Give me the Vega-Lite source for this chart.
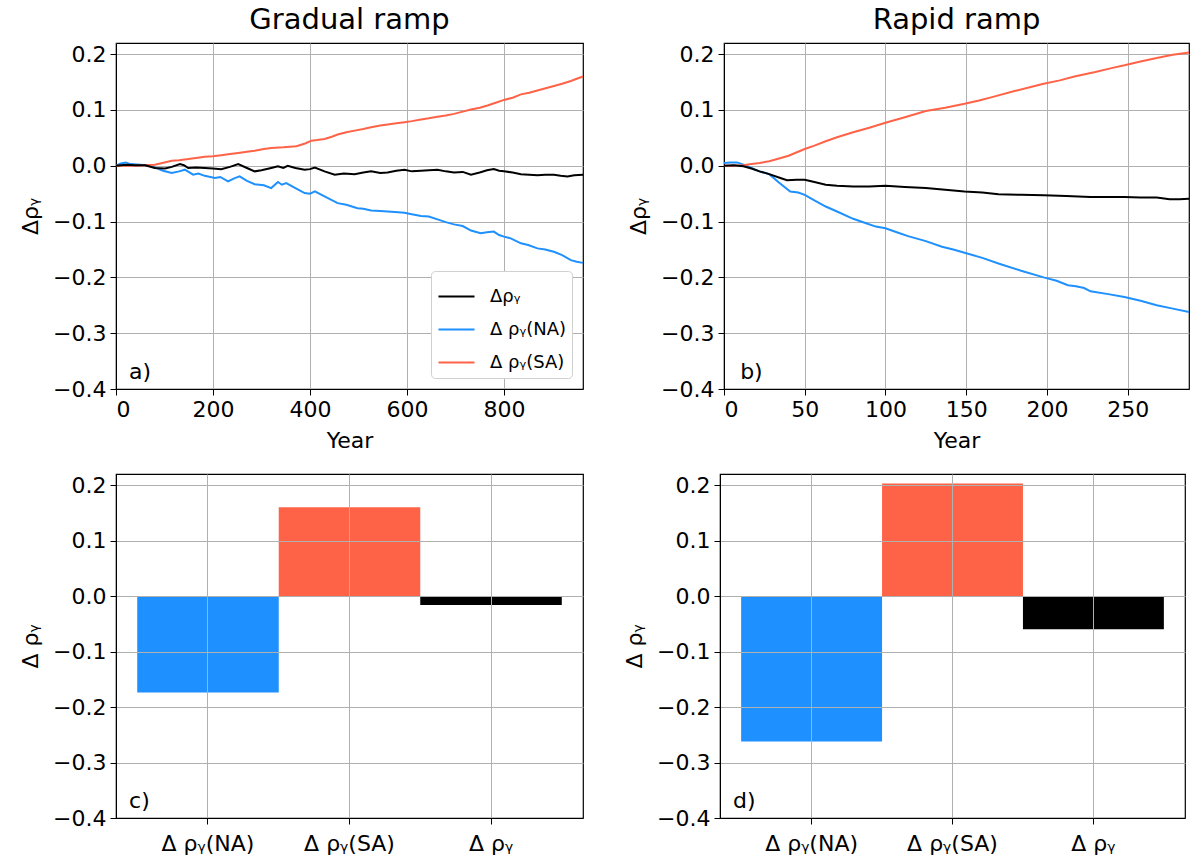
{
  "$schema": "https://vega.github.io/schema/vega-lite/v6.json",
  "padding": {"left": 18, "top": 5, "right": 2, "bottom": 5},
  "background": "white",
  "config": {
    "font": "DejaVu Sans",
    "view": {"stroke": "black", "strokeWidth": 1.2},
    "axis": {
      "labelFont": "DejaVu Sans", "labelFontSize": 22, "labelColor": "black",
      "titleFont": "DejaVu Sans", "titleFontSize": 22, "titleFontWeight": "normal", "titleColor": "black",
      "domainColor": "black", "tickColor": "black", "tickSize": 6, "tickWidth": 1,
      "gridColor": "#b0b0b0", "gridWidth": 1, "labelPadding": 4, "titlePadding": 10
    },
    "title": {"font": "DejaVu Sans", "fontSize": 29, "fontWeight": "normal", "color": "black", "offset": 8},
    "legend": {
      "orient": "bottom-right", "offset": 11, "fillColor": "white", "strokeColor": "#d0d0d0",
      "cornerRadius": 4, "padding": 6, "symbolType": "stroke", "symbolStrokeWidth": 2,
      "symbolSize": 1300, "labelFontSize": 18, "labelFont": "DejaVu Sans", "labelColor": "black",
      "rowPadding": 4, "labelOffset": 14
    }
  },
  "datasets": {
    "gradual": [
      {"year": 0, "series": "Δ ρᵧ(NA)", "drho": 0}, {"year": 10, "series": "Δ ρᵧ(NA)", "drho": 0.004}, {"year": 20, "series": "Δ ρᵧ(NA)", "drho": 0.006}, {"year": 30, "series": "Δ ρᵧ(NA)", "drho": 0.003}, {"year": 50, "series": "Δ ρᵧ(NA)", "drho": 0.002}, {"year": 65, "series": "Δ ρᵧ(NA)", "drho": 0.001}, {"year": 80, "series": "Δ ρᵧ(NA)", "drho": -0.003}, {"year": 97, "series": "Δ ρᵧ(NA)", "drho": -0.009}, {"year": 115, "series": "Δ ρᵧ(NA)", "drho": -0.013}, {"year": 130, "series": "Δ ρᵧ(NA)", "drho": -0.010}, {"year": 142, "series": "Δ ρᵧ(NA)", "drho": -0.007}, {"year": 159, "series": "Δ ρᵧ(NA)", "drho": -0.016}, {"year": 170, "series": "Δ ρᵧ(NA)", "drho": -0.014}, {"year": 183, "series": "Δ ρᵧ(NA)", "drho": -0.018}, {"year": 204, "series": "Δ ρᵧ(NA)", "drho": -0.022}, {"year": 215, "series": "Δ ρᵧ(NA)", "drho": -0.020}, {"year": 231, "series": "Δ ρᵧ(NA)", "drho": -0.028}, {"year": 245, "series": "Δ ρᵧ(NA)", "drho": -0.022}, {"year": 255, "series": "Δ ρᵧ(NA)", "drho": -0.019}, {"year": 270, "series": "Δ ρᵧ(NA)", "drho": -0.027}, {"year": 286, "series": "Δ ρᵧ(NA)", "drho": -0.033}, {"year": 305, "series": "Δ ρᵧ(NA)", "drho": -0.035}, {"year": 320, "series": "Δ ρᵧ(NA)", "drho": -0.040}, {"year": 334, "series": "Δ ρᵧ(NA)", "drho": -0.029}, {"year": 342, "series": "Δ ρᵧ(NA)", "drho": -0.034}, {"year": 351, "series": "Δ ρᵧ(NA)", "drho": -0.031}, {"year": 370, "series": "Δ ρᵧ(NA)", "drho": -0.040}, {"year": 389, "series": "Δ ρᵧ(NA)", "drho": -0.049}, {"year": 400, "series": "Δ ρᵧ(NA)", "drho": -0.050}, {"year": 410, "series": "Δ ρᵧ(NA)", "drho": -0.046}, {"year": 430, "series": "Δ ρᵧ(NA)", "drho": -0.055}, {"year": 457, "series": "Δ ρᵧ(NA)", "drho": -0.067}, {"year": 475, "series": "Δ ρᵧ(NA)", "drho": -0.070}, {"year": 498, "series": "Δ ρᵧ(NA)", "drho": -0.076}, {"year": 510, "series": "Δ ρᵧ(NA)", "drho": -0.077}, {"year": 526, "series": "Δ ρᵧ(NA)", "drho": -0.080}, {"year": 545, "series": "Δ ρᵧ(NA)", "drho": -0.081}, {"year": 560, "series": "Δ ρᵧ(NA)", "drho": -0.082}, {"year": 575, "series": "Δ ρᵧ(NA)", "drho": -0.083}, {"year": 595, "series": "Δ ρᵧ(NA)", "drho": -0.084}, {"year": 610, "series": "Δ ρᵧ(NA)", "drho": -0.087}, {"year": 629, "series": "Δ ρᵧ(NA)", "drho": -0.090}, {"year": 645, "series": "Δ ρᵧ(NA)", "drho": -0.091}, {"year": 663, "series": "Δ ρᵧ(NA)", "drho": -0.096}, {"year": 680, "series": "Δ ρᵧ(NA)", "drho": -0.101}, {"year": 697, "series": "Δ ρᵧ(NA)", "drho": -0.105}, {"year": 715, "series": "Δ ρᵧ(NA)", "drho": -0.108}, {"year": 732, "series": "Δ ρᵧ(NA)", "drho": -0.116}, {"year": 752, "series": "Δ ρᵧ(NA)", "drho": -0.121}, {"year": 765, "series": "Δ ρᵧ(NA)", "drho": -0.119}, {"year": 779, "series": "Δ ρᵧ(NA)", "drho": -0.118}, {"year": 790, "series": "Δ ρᵧ(NA)", "drho": -0.124}, {"year": 800, "series": "Δ ρᵧ(NA)", "drho": -0.127}, {"year": 814, "series": "Δ ρᵧ(NA)", "drho": -0.130}, {"year": 835, "series": "Δ ρᵧ(NA)", "drho": -0.139}, {"year": 850, "series": "Δ ρᵧ(NA)", "drho": -0.142}, {"year": 869, "series": "Δ ρᵧ(NA)", "drho": -0.148}, {"year": 885, "series": "Δ ρᵧ(NA)", "drho": -0.150}, {"year": 903, "series": "Δ ρᵧ(NA)", "drho": -0.154}, {"year": 920, "series": "Δ ρᵧ(NA)", "drho": -0.160}, {"year": 938, "series": "Δ ρᵧ(NA)", "drho": -0.169}, {"year": 950, "series": "Δ ρᵧ(NA)", "drho": -0.172}, {"year": 963, "series": "Δ ρᵧ(NA)", "drho": -0.174},
      {"year": 0, "series": "Δ ρᵧ(SA)", "drho": 0}, {"year": 40, "series": "Δ ρᵧ(SA)", "drho": 0.000}, {"year": 80, "series": "Δ ρᵧ(SA)", "drho": 0.002}, {"year": 100, "series": "Δ ρᵧ(SA)", "drho": 0.006}, {"year": 115, "series": "Δ ρᵧ(SA)", "drho": 0.009}, {"year": 130, "series": "Δ ρᵧ(SA)", "drho": 0.010}, {"year": 149, "series": "Δ ρᵧ(SA)", "drho": 0.012}, {"year": 165, "series": "Δ ρᵧ(SA)", "drho": 0.014}, {"year": 183, "series": "Δ ρᵧ(SA)", "drho": 0.016}, {"year": 200, "series": "Δ ρᵧ(SA)", "drho": 0.017}, {"year": 217, "series": "Δ ρᵧ(SA)", "drho": 0.019}, {"year": 235, "series": "Δ ρᵧ(SA)", "drho": 0.021}, {"year": 252, "series": "Δ ρᵧ(SA)", "drho": 0.023}, {"year": 270, "series": "Δ ρᵧ(SA)", "drho": 0.025}, {"year": 286, "series": "Δ ρᵧ(SA)", "drho": 0.027}, {"year": 305, "series": "Δ ρᵧ(SA)", "drho": 0.030}, {"year": 320, "series": "Δ ρᵧ(SA)", "drho": 0.032}, {"year": 345, "series": "Δ ρᵧ(SA)", "drho": 0.033}, {"year": 372, "series": "Δ ρᵧ(SA)", "drho": 0.035}, {"year": 390, "series": "Δ ρᵧ(SA)", "drho": 0.040}, {"year": 403, "series": "Δ ρᵧ(SA)", "drho": 0.045}, {"year": 415, "series": "Δ ρᵧ(SA)", "drho": 0.046}, {"year": 430, "series": "Δ ρᵧ(SA)", "drho": 0.048}, {"year": 445, "series": "Δ ρᵧ(SA)", "drho": 0.052}, {"year": 457, "series": "Δ ρᵧ(SA)", "drho": 0.056}, {"year": 475, "series": "Δ ρᵧ(SA)", "drho": 0.060}, {"year": 492, "series": "Δ ρᵧ(SA)", "drho": 0.063}, {"year": 510, "series": "Δ ρᵧ(SA)", "drho": 0.066}, {"year": 526, "series": "Δ ρᵧ(SA)", "drho": 0.069}, {"year": 545, "series": "Δ ρᵧ(SA)", "drho": 0.072}, {"year": 560, "series": "Δ ρᵧ(SA)", "drho": 0.074}, {"year": 578, "series": "Δ ρᵧ(SA)", "drho": 0.076}, {"year": 595, "series": "Δ ρᵧ(SA)", "drho": 0.078}, {"year": 610, "series": "Δ ρᵧ(SA)", "drho": 0.080}, {"year": 629, "series": "Δ ρᵧ(SA)", "drho": 0.083}, {"year": 645, "series": "Δ ρᵧ(SA)", "drho": 0.085}, {"year": 663, "series": "Δ ρᵧ(SA)", "drho": 0.088}, {"year": 680, "series": "Δ ρᵧ(SA)", "drho": 0.090}, {"year": 697, "series": "Δ ρᵧ(SA)", "drho": 0.093}, {"year": 715, "series": "Δ ρᵧ(SA)", "drho": 0.097}, {"year": 732, "series": "Δ ρᵧ(SA)", "drho": 0.101}, {"year": 750, "series": "Δ ρᵧ(SA)", "drho": 0.104}, {"year": 766, "series": "Δ ρᵧ(SA)", "drho": 0.108}, {"year": 783, "series": "Δ ρᵧ(SA)", "drho": 0.113}, {"year": 800, "series": "Δ ρᵧ(SA)", "drho": 0.118}, {"year": 818, "series": "Δ ρᵧ(SA)", "drho": 0.122}, {"year": 835, "series": "Δ ρᵧ(SA)", "drho": 0.128}, {"year": 852, "series": "Δ ρᵧ(SA)", "drho": 0.131}, {"year": 869, "series": "Δ ρᵧ(SA)", "drho": 0.135}, {"year": 886, "series": "Δ ρᵧ(SA)", "drho": 0.139}, {"year": 903, "series": "Δ ρᵧ(SA)", "drho": 0.143}, {"year": 920, "series": "Δ ρᵧ(SA)", "drho": 0.147}, {"year": 938, "series": "Δ ρᵧ(SA)", "drho": 0.152}, {"year": 950, "series": "Δ ρᵧ(SA)", "drho": 0.156}, {"year": 963, "series": "Δ ρᵧ(SA)", "drho": 0.160},
      {"year": 0, "series": "Δρᵧ", "drho": 0}, {"year": 20, "series": "Δρᵧ", "drho": 0.002}, {"year": 40, "series": "Δρᵧ", "drho": 0.001}, {"year": 60, "series": "Δρᵧ", "drho": 0.001}, {"year": 80, "series": "Δρᵧ", "drho": -0.004}, {"year": 101, "series": "Δρᵧ", "drho": -0.005}, {"year": 115, "series": "Δρᵧ", "drho": -0.002}, {"year": 132, "series": "Δρᵧ", "drho": 0.003}, {"year": 140, "series": "Δρᵧ", "drho": 0.001}, {"year": 149, "series": "Δρᵧ", "drho": -0.004}, {"year": 165, "series": "Δρᵧ", "drho": -0.003}, {"year": 183, "series": "Δρᵧ", "drho": -0.004}, {"year": 200, "series": "Δρᵧ", "drho": -0.005}, {"year": 217, "series": "Δρᵧ", "drho": -0.006}, {"year": 235, "series": "Δρᵧ", "drho": -0.002}, {"year": 252, "series": "Δρᵧ", "drho": 0.003}, {"year": 270, "series": "Δρᵧ", "drho": -0.004}, {"year": 286, "series": "Δρᵧ", "drho": -0.010}, {"year": 300, "series": "Δρᵧ", "drho": -0.008}, {"year": 320, "series": "Δρᵧ", "drho": -0.004}, {"year": 334, "series": "Δρᵧ", "drho": -0.001}, {"year": 345, "series": "Δρᵧ", "drho": -0.004}, {"year": 354, "series": "Δρᵧ", "drho": 0.000}, {"year": 370, "series": "Δρᵧ", "drho": -0.004}, {"year": 389, "series": "Δρᵧ", "drho": -0.007}, {"year": 400, "series": "Δρᵧ", "drho": -0.006}, {"year": 410, "series": "Δρᵧ", "drho": -0.003}, {"year": 430, "series": "Δρᵧ", "drho": -0.010}, {"year": 451, "series": "Δρᵧ", "drho": -0.016}, {"year": 470, "series": "Δρᵧ", "drho": -0.014}, {"year": 492, "series": "Δρᵧ", "drho": -0.015}, {"year": 510, "series": "Δρᵧ", "drho": -0.012}, {"year": 526, "series": "Δρᵧ", "drho": -0.010}, {"year": 545, "series": "Δρᵧ", "drho": -0.013}, {"year": 560, "series": "Δρᵧ", "drho": -0.012}, {"year": 578, "series": "Δρᵧ", "drho": -0.009}, {"year": 595, "series": "Δρᵧ", "drho": -0.007}, {"year": 610, "series": "Δρᵧ", "drho": -0.010}, {"year": 629, "series": "Δρᵧ", "drho": -0.009}, {"year": 645, "series": "Δρᵧ", "drho": -0.008}, {"year": 663, "series": "Δρᵧ", "drho": -0.007}, {"year": 680, "series": "Δρᵧ", "drho": -0.010}, {"year": 697, "series": "Δρᵧ", "drho": -0.012}, {"year": 715, "series": "Δρᵧ", "drho": -0.011}, {"year": 732, "series": "Δρᵧ", "drho": -0.016}, {"year": 750, "series": "Δρᵧ", "drho": -0.012}, {"year": 765, "series": "Δρᵧ", "drho": -0.008}, {"year": 779, "series": "Δρᵧ", "drho": -0.006}, {"year": 790, "series": "Δρᵧ", "drho": -0.009}, {"year": 800, "series": "Δρᵧ", "drho": -0.010}, {"year": 818, "series": "Δρᵧ", "drho": -0.012}, {"year": 835, "series": "Δρᵧ", "drho": -0.015}, {"year": 852, "series": "Δρᵧ", "drho": -0.016}, {"year": 869, "series": "Δρᵧ", "drho": -0.017}, {"year": 885, "series": "Δρᵧ", "drho": -0.016}, {"year": 903, "series": "Δρᵧ", "drho": -0.016}, {"year": 917, "series": "Δρᵧ", "drho": -0.018}, {"year": 931, "series": "Δρᵧ", "drho": -0.019}, {"year": 945, "series": "Δρᵧ", "drho": -0.017}, {"year": 963, "series": "Δρᵧ", "drho": -0.016}
    ],
    "rapid": [
      {"year": 0, "series": "Δ ρᵧ(NA)", "drho": 0.005}, {"year": 4, "series": "Δ ρᵧ(NA)", "drho": 0.006}, {"year": 8, "series": "Δ ρᵧ(NA)", "drho": 0.006}, {"year": 12, "series": "Δ ρᵧ(NA)", "drho": 0.002}, {"year": 17, "series": "Δ ρᵧ(NA)", "drho": -0.004}, {"year": 22, "series": "Δ ρᵧ(NA)", "drho": -0.010}, {"year": 28, "series": "Δ ρᵧ(NA)", "drho": -0.015}, {"year": 34, "series": "Δ ρᵧ(NA)", "drho": -0.030}, {"year": 41, "series": "Δ ρᵧ(NA)", "drho": -0.046}, {"year": 46, "series": "Δ ρᵧ(NA)", "drho": -0.048}, {"year": 50, "series": "Δ ρᵧ(NA)", "drho": -0.052}, {"year": 56, "series": "Δ ρᵧ(NA)", "drho": -0.062}, {"year": 63, "series": "Δ ρᵧ(NA)", "drho": -0.073}, {"year": 70, "series": "Δ ρᵧ(NA)", "drho": -0.082}, {"year": 80, "series": "Δ ρᵧ(NA)", "drho": -0.095}, {"year": 88, "series": "Δ ρᵧ(NA)", "drho": -0.103}, {"year": 94, "series": "Δ ρᵧ(NA)", "drho": -0.109}, {"year": 100, "series": "Δ ρᵧ(NA)", "drho": -0.112}, {"year": 107, "series": "Δ ρᵧ(NA)", "drho": -0.119}, {"year": 114, "series": "Δ ρᵧ(NA)", "drho": -0.126}, {"year": 125, "series": "Δ ρᵧ(NA)", "drho": -0.135}, {"year": 135, "series": "Δ ρᵧ(NA)", "drho": -0.145}, {"year": 142, "series": "Δ ρᵧ(NA)", "drho": -0.150}, {"year": 149, "series": "Δ ρᵧ(NA)", "drho": -0.156}, {"year": 160, "series": "Δ ρᵧ(NA)", "drho": -0.165}, {"year": 170, "series": "Δ ρᵧ(NA)", "drho": -0.175}, {"year": 184, "series": "Δ ρᵧ(NA)", "drho": -0.188}, {"year": 198, "series": "Δ ρᵧ(NA)", "drho": -0.200}, {"year": 206, "series": "Δ ρᵧ(NA)", "drho": -0.206}, {"year": 213, "series": "Δ ρᵧ(NA)", "drho": -0.214}, {"year": 218, "series": "Δ ρᵧ(NA)", "drho": -0.216}, {"year": 223, "series": "Δ ρᵧ(NA)", "drho": -0.219}, {"year": 227, "series": "Δ ρᵧ(NA)", "drho": -0.225}, {"year": 238, "series": "Δ ρᵧ(NA)", "drho": -0.230}, {"year": 248, "series": "Δ ρᵧ(NA)", "drho": -0.235}, {"year": 258, "series": "Δ ρᵧ(NA)", "drho": -0.242}, {"year": 268, "series": "Δ ρᵧ(NA)", "drho": -0.250}, {"year": 278, "series": "Δ ρᵧ(NA)", "drho": -0.256}, {"year": 288, "series": "Δ ρᵧ(NA)", "drho": -0.262},
      {"year": 0, "series": "Δ ρᵧ(SA)", "drho": 0}, {"year": 6, "series": "Δ ρᵧ(SA)", "drho": 0}, {"year": 12, "series": "Δ ρᵧ(SA)", "drho": 0.001}, {"year": 17, "series": "Δ ρᵧ(SA)", "drho": 0.003}, {"year": 22, "series": "Δ ρᵧ(SA)", "drho": 0.005}, {"year": 28, "series": "Δ ρᵧ(SA)", "drho": 0.008}, {"year": 33, "series": "Δ ρᵧ(SA)", "drho": 0.012}, {"year": 40, "series": "Δ ρᵧ(SA)", "drho": 0.018}, {"year": 50, "series": "Δ ρᵧ(SA)", "drho": 0.030}, {"year": 56, "series": "Δ ρᵧ(SA)", "drho": 0.036}, {"year": 63, "series": "Δ ρᵧ(SA)", "drho": 0.044}, {"year": 70, "series": "Δ ρᵧ(SA)", "drho": 0.051}, {"year": 80, "series": "Δ ρᵧ(SA)", "drho": 0.060}, {"year": 90, "series": "Δ ρᵧ(SA)", "drho": 0.068}, {"year": 100, "series": "Δ ρᵧ(SA)", "drho": 0.077}, {"year": 112, "series": "Δ ρᵧ(SA)", "drho": 0.087}, {"year": 125, "series": "Δ ρᵧ(SA)", "drho": 0.098}, {"year": 137, "series": "Δ ρᵧ(SA)", "drho": 0.104}, {"year": 149, "series": "Δ ρᵧ(SA)", "drho": 0.111}, {"year": 158, "series": "Δ ρᵧ(SA)", "drho": 0.117}, {"year": 166, "series": "Δ ρᵧ(SA)", "drho": 0.123}, {"year": 180, "series": "Δ ρᵧ(SA)", "drho": 0.134}, {"year": 190, "series": "Δ ρᵧ(SA)", "drho": 0.141}, {"year": 198, "series": "Δ ρᵧ(SA)", "drho": 0.147}, {"year": 208, "series": "Δ ρᵧ(SA)", "drho": 0.153}, {"year": 217, "series": "Δ ρᵧ(SA)", "drho": 0.160}, {"year": 230, "series": "Δ ρᵧ(SA)", "drho": 0.168}, {"year": 240, "series": "Δ ρᵧ(SA)", "drho": 0.175}, {"year": 248, "series": "Δ ρᵧ(SA)", "drho": 0.180}, {"year": 258, "series": "Δ ρᵧ(SA)", "drho": 0.187}, {"year": 268, "series": "Δ ρᵧ(SA)", "drho": 0.193}, {"year": 278, "series": "Δ ρᵧ(SA)", "drho": 0.199}, {"year": 288, "series": "Δ ρᵧ(SA)", "drho": 0.203},
      {"year": 0, "series": "Δρᵧ", "drho": 0}, {"year": 6, "series": "Δρᵧ", "drho": 0.001}, {"year": 12, "series": "Δρᵧ", "drho": -0.001}, {"year": 17, "series": "Δρᵧ", "drho": -0.005}, {"year": 22, "series": "Δρᵧ", "drho": -0.010}, {"year": 28, "series": "Δρᵧ", "drho": -0.015}, {"year": 34, "series": "Δρᵧ", "drho": -0.021}, {"year": 39, "series": "Δρᵧ", "drho": -0.026}, {"year": 45, "series": "Δρᵧ", "drho": -0.025}, {"year": 50, "series": "Δρᵧ", "drho": -0.025}, {"year": 56, "series": "Δρᵧ", "drho": -0.029}, {"year": 63, "series": "Δρᵧ", "drho": -0.034}, {"year": 70, "series": "Δρᵧ", "drho": -0.036}, {"year": 80, "series": "Δρᵧ", "drho": -0.037}, {"year": 90, "series": "Δρᵧ", "drho": -0.037}, {"year": 100, "series": "Δρᵧ", "drho": -0.036}, {"year": 112, "series": "Δρᵧ", "drho": -0.038}, {"year": 125, "series": "Δρᵧ", "drho": -0.040}, {"year": 137, "series": "Δρᵧ", "drho": -0.043}, {"year": 149, "series": "Δρᵧ", "drho": -0.046}, {"year": 160, "series": "Δρᵧ", "drho": -0.048}, {"year": 170, "series": "Δρᵧ", "drho": -0.051}, {"year": 184, "series": "Δρᵧ", "drho": -0.052}, {"year": 198, "series": "Δρᵧ", "drho": -0.053}, {"year": 212, "series": "Δρᵧ", "drho": -0.054}, {"year": 227, "series": "Δρᵧ", "drho": -0.056}, {"year": 238, "series": "Δρᵧ", "drho": -0.056}, {"year": 248, "series": "Δρᵧ", "drho": -0.056}, {"year": 258, "series": "Δρᵧ", "drho": -0.057}, {"year": 268, "series": "Δρᵧ", "drho": -0.057}, {"year": 276, "series": "Δρᵧ", "drho": -0.060}, {"year": 282, "series": "Δρᵧ", "drho": -0.060}, {"year": 288, "series": "Δρᵧ", "drho": -0.059}
    ],
    "bars_gradual": [
      {"label": "Δ ρᵧ(NA)", "drho": -0.174},
      {"label": "Δ ρᵧ(SA)", "drho": 0.160},
      {"label": "Δ ρᵧ", "drho": -0.016}
    ],
    "bars_rapid": [
      {"label": "Δ ρᵧ(NA)", "drho": -0.262},
      {"label": "Δ ρᵧ(SA)", "drho": 0.203},
      {"label": "Δ ρᵧ", "drho": -0.060}
    ]
  },
  "spacing": 21,
  "resolve": {"scale": {"color": "independent"}, "legend": {"color": "independent"}},
  "vconcat": [
    {
      "spacing": 38,
      "resolve": {"scale": {"color": "independent"}, "legend": {"color": "independent"}},
      "hconcat": [
        {
          "title": "Gradual ramp",
          "width": 467, "height": 346,
          "layer": [
            {
              "data": {"name": "gradual"},
              "mark": {"type": "line", "strokeWidth": 2},
              "encoding": {
                "x": {"field": "year", "type": "quantitative", "scale": {"domain": [0, 963], "nice": false, "zero": false},
                      "axis": {"title": "Year", "values": [0, 200, 400, 600, 800], "grid": true}},
                "y": {"field": "drho", "type": "quantitative", "scale": {"domain": [-0.4, 0.22], "nice": false},
                      "axis": {"title": "Δρᵧ", "values": [-0.4, -0.3, -0.2, -0.1, 0, 0.1, 0.2], "format": ".1f", "grid": true}},
                "color": {"field": "series", "type": "nominal",
                          "scale": {"domain": ["Δρᵧ", "Δ ρᵧ(NA)", "Δ ρᵧ(SA)"], "range": ["black", "#1e90ff", "#ff6347"]},
                          "legend": {"title": null}}
              }
            },
            {
              "data": {"values": [{"year": 27, "drho": -0.382, "tag": "a)"}]},
              "mark": {"type": "text", "align": "left", "baseline": "alphabetic", "fontSize": 22, "color": "black"},
              "encoding": {
                "x": {"field": "year", "type": "quantitative"},
                "y": {"field": "drho", "type": "quantitative"},
                "text": {"field": "tag"}
              }
            }
          ]
        },
        {
          "title": "Rapid ramp",
          "width": 465, "height": 346,
          "layer": [
            {
              "data": {"name": "rapid"},
              "mark": {"type": "line", "strokeWidth": 2},
              "encoding": {
                "x": {"field": "year", "type": "quantitative", "scale": {"domain": [0, 288], "nice": false, "zero": false},
                      "axis": {"title": "Year", "values": [0, 50, 100, 150, 200, 250], "grid": true}},
                "y": {"field": "drho", "type": "quantitative", "scale": {"domain": [-0.4, 0.22], "nice": false},
                      "axis": {"title": "Δρᵧ", "values": [-0.4, -0.3, -0.2, -0.1, 0, 0.1, 0.2], "format": ".1f", "grid": true}},
                "color": {"field": "series", "type": "nominal",
                          "scale": {"domain": ["Δρᵧ", "Δ ρᵧ(NA)", "Δ ρᵧ(SA)"], "range": ["black", "#1e90ff", "#ff6347"]},
                          "legend": null}
              }
            },
            {
              "data": {"values": [{"year": 10, "drho": -0.382, "tag": "b)"}]},
              "mark": {"type": "text", "align": "left", "baseline": "alphabetic", "fontSize": 22, "color": "black"},
              "encoding": {
                "x": {"field": "year", "type": "quantitative"},
                "y": {"field": "drho", "type": "quantitative"},
                "text": {"field": "tag"}
              }
            }
          ]
        }
      ]
    },
    {
      "spacing": 38,
      "resolve": {"scale": {"color": "independent"}, "legend": {"color": "independent"}},
      "hconcat": [
        {
          "width": 467, "height": 344,
          "resolve": {"scale": {"x": "independent"}},
          "layer": [
            {
              "data": {"name": "bars_gradual"},
              "mark": {"type": "bar"},
              "encoding": {
                "x": {"field": "label", "type": "nominal", "sort": null, "scale": {"paddingInner": 0, "paddingOuter": 0.15},
                      "axis": {"title": null, "labelAngle": 0, "grid": true, "bandPosition": 0.5, "zindex": 1, "labelPadding": 9}},
                "y": {"field": "drho", "type": "quantitative", "scale": {"domain": [-0.4, 0.22], "nice": false},
                      "axis": {"title": "Δ ρᵧ", "values": [-0.4, -0.3, -0.2, -0.1, 0, 0.1, 0.2], "format": ".1f", "grid": true, "zindex": 1}},
                "color": {"field": "label", "type": "nominal", "sort": null,
                          "scale": {"domain": ["Δ ρᵧ(NA)", "Δ ρᵧ(SA)", "Δ ρᵧ"], "range": ["#1e90ff", "#ff6347", "black"]},
                          "legend": null}
              }
            },
            {
              "data": {"values": [{"frac": 0.028, "drho": -0.382, "tag": "c)"}]},
              "mark": {"type": "text", "align": "left", "baseline": "alphabetic", "fontSize": 22, "color": "black"},
              "encoding": {
                "x": {"field": "frac", "type": "quantitative", "scale": {"domain": [0, 1]}, "axis": null},
                "y": {"field": "drho", "type": "quantitative"},
                "text": {"field": "tag"}
              }
            }
          ]
        },
        {
          "width": 465, "height": 344,
          "resolve": {"scale": {"x": "independent"}},
          "layer": [
            {
              "data": {"name": "bars_rapid"},
              "mark": {"type": "bar"},
              "encoding": {
                "x": {"field": "label", "type": "nominal", "sort": null, "scale": {"paddingInner": 0, "paddingOuter": 0.15},
                      "axis": {"title": null, "labelAngle": 0, "grid": true, "bandPosition": 0.5, "zindex": 1, "labelPadding": 9}},
                "y": {"field": "drho", "type": "quantitative", "scale": {"domain": [-0.4, 0.22], "nice": false},
                      "axis": {"title": "Δ ρᵧ", "values": [-0.4, -0.3, -0.2, -0.1, 0, 0.1, 0.2], "format": ".1f", "grid": true, "zindex": 1}},
                "color": {"field": "label", "type": "nominal", "sort": null,
                          "scale": {"domain": ["Δ ρᵧ(NA)", "Δ ρᵧ(SA)", "Δ ρᵧ"], "range": ["#1e90ff", "#ff6347", "black"]},
                          "legend": null}
              }
            },
            {
              "data": {"values": [{"frac": 0.028, "drho": -0.382, "tag": "d)"}]},
              "mark": {"type": "text", "align": "left", "baseline": "alphabetic", "fontSize": 22, "color": "black"},
              "encoding": {
                "x": {"field": "frac", "type": "quantitative", "scale": {"domain": [0, 1]}, "axis": null},
                "y": {"field": "drho", "type": "quantitative"},
                "text": {"field": "tag"}
              }
            }
          ]
        }
      ]
    }
  ]
}
